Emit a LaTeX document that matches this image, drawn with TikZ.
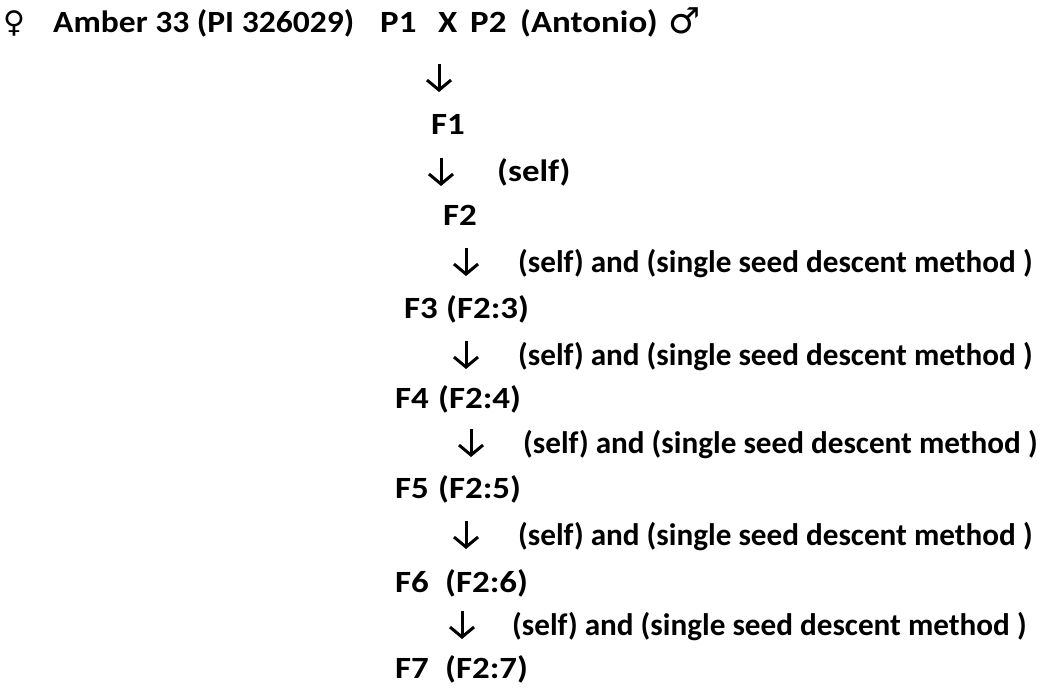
\documentclass[tikz,border=0pt]{standalone}
\usepackage{fontspec}
\setmainfont{Carlito}
\newfontfamily\symfont{DejaVu Sans}
\usetikzlibrary{arrows.meta}
\newcommand\widetext[2][1.13]{\scalebox{#1}[1]{#2}}
\begin{document}
\begin{tikzpicture}[x=1bp,y=-1bp,
  txt/.style={anchor=base west,inner sep=0pt,font=\fontsize{31}{36}\selectfont\bfseries},
  longtxt/.style={anchor=base west,inner sep=0pt,font=\fontsize{31.3}{36}\selectfont\bfseries},
  sym/.style={anchor=base west,inner sep=0pt,font=\fontsize{30}{34}\selectfont\symfont\bfseries},
  downarrow/.style={line width=3bp,-{Straight Barb[length=10bp,width=24bp]}}]
\useasboundingbox (0,0) rectangle (1047,688);
% line 1
\node[sym] (fem) at (3,33) {♀};
\node[txt] (amber) at (53,33) {\widetext[1.087]{Amber 33 (PI 326029)}};
\node[txt] (p1) at (380,33) {\widetext{P1}};
\node[txt] (x) at (438,33) {\widetext{X}};
\node[txt] (p2) at (470,33) {\widetext{P2}};
\node[txt] (anto) at (520,33) {\widetext{(Antonio)}};
\node[sym,font=\fontsize{36}{40}\selectfont\symfont\bfseries] (male) at (668,34) {♂};
% generations
\node[txt] (f1) at (431,135) {\widetext{F1}};
\node[txt] (s1) at (497,182) {\widetext{(self)}};
\node[txt] (f2) at (443,225) {\widetext{F2}};
\node[longtxt] (s2) at (518,272) {(self) and (single seed descent method )};
\node[txt] (f3) at (404,318) {\widetext{F3}};
\node[txt] (f3b) at (446,318) {\widetext{(F2:3)}};
\node[longtxt] (s3) at (518,365) {(self) and (single seed descent method )};
\node[txt] (f4) at (395,408) {\widetext{F4}};
\node[txt] (f4b) at (438,408) {\widetext{(F2:4)}};
\node[longtxt] (s4) at (523,453) {(self) and (single seed descent method )};
\node[txt] (f5) at (395,498) {\widetext{F5}};
\node[txt] (f5b) at (438,498) {\widetext{(F2:5)}};
\node[longtxt] (s5) at (518,545) {(self) and (single seed descent method )};
\node[txt] (f6) at (395,592) {\widetext{F6}};
\node[txt] (f6b) at (445,592) {\widetext{(F2:6)}};
\node[longtxt] (s6) at (512,635) {(self) and (single seed descent method )};
\node[txt] (f7) at (395,678) {\widetext{F7}};
\node[txt] (f7b) at (445,678) {\widetext{(F2:7)}};
% arrows
\coordinate (a1t) at (439,64);  \coordinate (a1b) at (439,92);
\coordinate (a2t) at (441,158); \coordinate (a2b) at (441,186);
\coordinate (a3t) at (466,248); \coordinate (a3b) at (466,276);
\coordinate (a4t) at (466,341); \coordinate (a4b) at (466,369);
\coordinate (a5t) at (471,429); \coordinate (a5b) at (471,457);
\coordinate (a6t) at (466,521); \coordinate (a6b) at (466,549);
\coordinate (a7t) at (462,611); \coordinate (a7b) at (462,639);
\foreach \i in {1,...,7} \draw[downarrow] (a\i t) -- (a\i b);
\end{tikzpicture}
\end{document}
